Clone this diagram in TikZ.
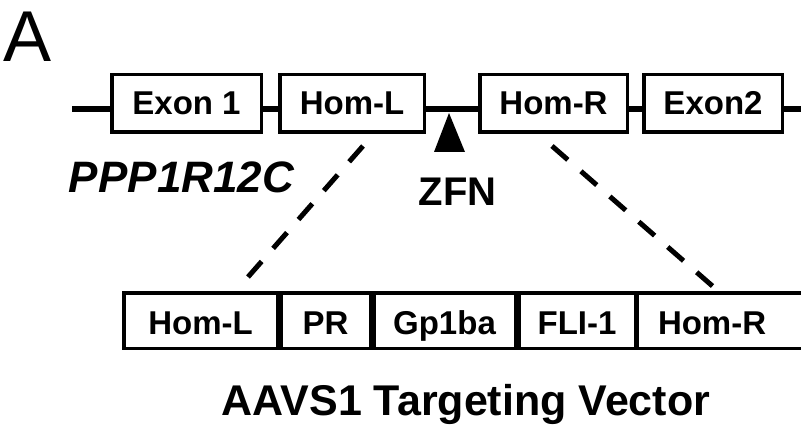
\documentclass[tikz,border=0pt]{standalone}
\usepackage{fontspec}
\setmainfont{Liberation Sans}
\begin{document}
\begin{tikzpicture}[x=1pt,y=-1pt,
  gbox/.style={draw, line width=3.5pt, fill=white, inner sep=0pt,
    minimum height=57.5pt, text height=23pt, text depth=0pt,
    font=\fontsize{33}{33}\selectfont\bfseries},
  vbox/.style={draw, line width=3.5pt, fill=white, inner sep=0pt,
    minimum height=55.5pt, text height=27pt, text depth=0pt,
    font=\fontsize{33}{33}\selectfont\bfseries},
  backbone/.style={line width=5.5pt},
  homline/.style={line width=5pt, dash pattern=on 21pt off 17.4pt},
  lbl/.style={anchor=base, inner sep=0pt}]
\useasboundingbox (0,0) rectangle (801,433);
\fill[white] (0,0) rectangle (801,433);
\clip (0,0) rectangle (801,433);
% backbone
\coordinate (lft) at (72,109);
\coordinate (rgt) at (815,109);
\draw[backbone] (lft) -- (rgt);
% genomic boxes
\node[gbox, minimum width=149.5pt] (exon1) at (186.5,103.5) {Exon 1};
\node[gbox, minimum width=144.5pt] (homl) at (352,103.5) {Hom-L};
\node[gbox, minimum width=147.5pt] (homr) at (553.5,103.5) {Hom-R};
\node[gbox, minimum width=138.5pt] (exon2) at (713,103.5) {Exon2};
% ZFN
\fill (449,113) -- (434,152) -- (465,152) -- cycle;
\node[lbl, font=\fontsize{40}{40}\selectfont\bfseries] (zfn) at (457.5,205) {ZFN};
\node[lbl, font=\fontsize{44}{44}\selectfont\bfseries\itshape] (gene) at (181.5,193) {PPP1R12C};
\node[lbl, font=\fontsize{72}{72}\selectfont] (panel) at (27.5,62) {A};
% vector boxes
\node[vbox, minimum width=153.5pt] (vhoml) at (200.5,320.5) {Hom-L};
\node[vbox, minimum width=89.5pt] (vpr) at (325.5,320.5) {PR};
\node[vbox, minimum width=141.5pt] (vgp) at (444.5,320.5) {Gp1ba};
\node[vbox, minimum width=116.5pt] (vfli) at (577,320.5) {FLI-1};
\node[vbox, minimum width=170pt, text width=128pt, align=left, inner xsep=19.25pt] (vhomr) at (722,320.5) {Hom-R};
% homology dashed lines
\coordinate (hl1) at (363,146);
\coordinate (hl2) at (248,277);
\coordinate (hr1) at (552,146);
\coordinate (hr2) at (717,290);
\draw[homline] (hl1) -- (hl2);
\draw[homline] (hr1) -- (hr2);
\node[lbl, font=\fontsize{43}{43}\selectfont\bfseries] (vec) at (466,415) {AAVS1 Targeting Vector};
\end{tikzpicture}
\end{document}
